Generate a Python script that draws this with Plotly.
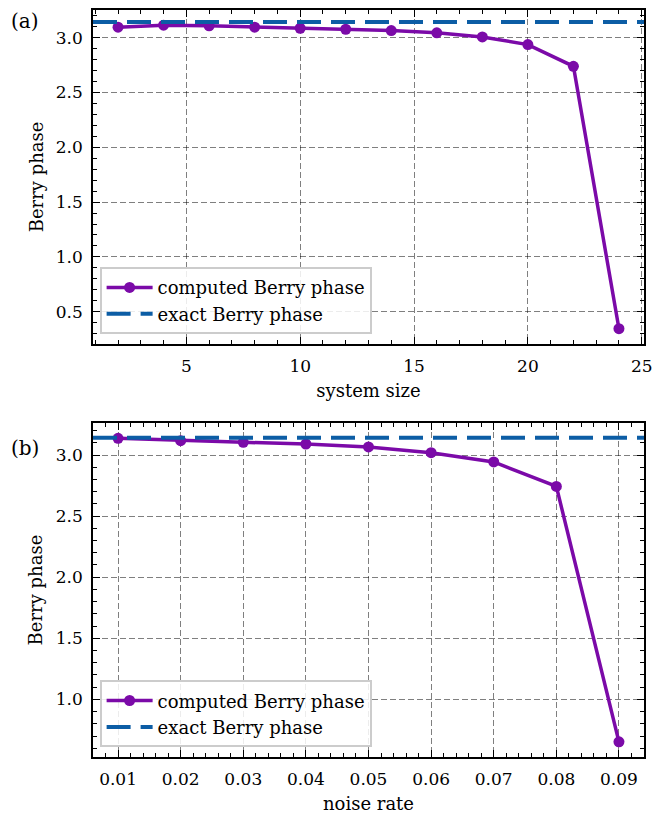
import math
import plotly.graph_objects as go
from plotly.subplots import make_subplots

# panel (a): Berry phase vs system size
system_size = [2, 4, 6, 8, 10, 12, 14, 16, 18, 20, 22, 24]
berry_vs_size = [3.095, 3.113, 3.107, 3.095, 3.085, 3.076, 3.064, 3.043, 3.006, 2.936, 2.738, 0.345]

# panel (b): Berry phase vs noise rate
noise_rate = [0.01, 0.02, 0.03, 0.04, 0.05, 0.06, 0.07, 0.08, 0.09]
berry_vs_noise = [3.137, 3.117, 3.104, 3.090, 3.066, 3.019, 2.943, 2.743, 0.653]

exact_phase = math.pi

purple = "#7b0aa8"
blue = "#0c5da5"
FONT = "DejaVu Serif"
FS = 18


def padded(vals, frac=0.05):
    lo, hi = min(vals), max(vals)
    pad = (hi - lo) * frac
    return [lo - pad, hi + pad]


fig = make_subplots(rows=2, cols=1, vertical_spacing=0.106)

panels = [
    (1, system_size, berry_vs_size, "legend", "system size", 5, 1, None),
    (2, noise_rate, berry_vs_noise, "legend2", "noise rate", 0.01, 0.002, ".2f"),
]

for row, xs, ys, leg, xtitle, dt, mdt, fmt in panels:
    xr = padded(xs)
    yr = padded(ys)
    fig.add_trace(go.Scatter(
        x=xs, y=ys, mode="lines+markers", name="computed Berry phase",
        line=dict(color=purple, width=3.5), marker=dict(size=11, color=purple),
        legend=leg,
    ), row=row, col=1)
    fig.add_trace(go.Scatter(
        x=xr, y=[exact_phase, exact_phase], mode="lines", name="exact Berry phase",
        line=dict(color=blue, width=4, dash="24px,10px"), legend=leg,
    ), row=row, col=1)

    axis_common = dict(
        showline=True, linecolor="black", linewidth=1.5, mirror="allticks",
        ticks="inside", ticklen=7, tickwidth=1.2, tickcolor="black",
        showgrid=True, gridcolor="rgba(0,0,0,0.5)", gridwidth=1, griddash="6px,3px",
        zeroline=False, automargin=False,
        tickfont=dict(family=FONT, size=FS - 1, color="black"),
    )
    fig.update_xaxes(
        range=xr, dtick=dt, tick0=0, tickformat=fmt, ticklabelstandoff=6,
        minor=dict(ticks="inside", ticklen=4, dtick=mdt, tick0=0, tickcolor="black", showgrid=False),
        title=dict(text=xtitle, font=dict(family=FONT, size=FS, color="black"), standoff=9),
        row=row, col=1, **axis_common,
    )
    fig.update_yaxes(
        range=yr, dtick=0.5, tick0=0, tickformat=".1f", ticklabelstandoff=5,
        minor=dict(ticks="inside", ticklen=4, dtick=0.1, tick0=0, tickcolor="black", showgrid=False),
        title=dict(text="Berry phase", font=dict(family=FONT, size=FS, color="black"), standoff=8),
        row=row, col=1, **axis_common,
    )

legend_style = dict(
    xanchor="left", yanchor="bottom", bgcolor="rgba(255,255,255,0.85)",
    bordercolor="#cccccc", borderwidth=2, itemwidth=46,
    font=dict(family=FONT, size=FS, color="black"), tracegroupgap=0,
)

fig.update_layout(
    width=667, height=815,
    margin=dict(l=85, r=31, t=2, b=66),
    plot_bgcolor="white", paper_bgcolor="white",
    font=dict(family=FONT, color="black"),
    legend=dict(x=0.012, y=0.566, **legend_style),
    legend2=dict(x=0.012, y=0.013, **legend_style),
)

fig.add_annotation(text="(a)", xref="paper", yref="paper", x=-0.152, y=0.985,
                   xanchor="left", yanchor="middle", showarrow=False,
                   font=dict(family=FONT, size=20, color="black"))
fig.add_annotation(text="(b)", xref="paper", yref="paper", x=-0.152, y=0.413,
                   xanchor="left", yanchor="middle", showarrow=False,
                   font=dict(family=FONT, size=20, color="black"))

fig.write_html("out.html")
